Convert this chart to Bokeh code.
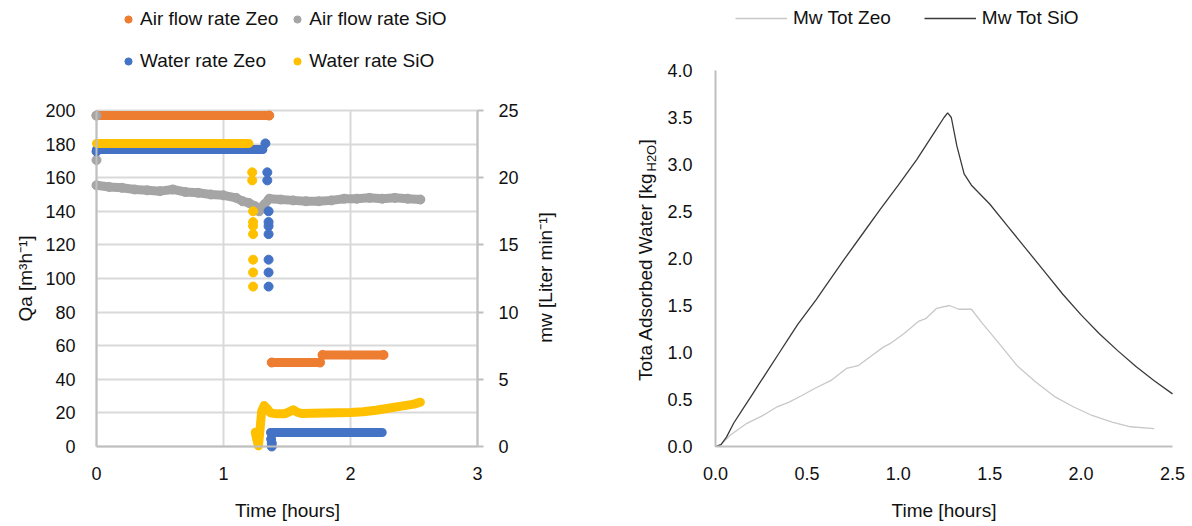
import math
from bokeh.plotting import figure
from bokeh.models import (Range1d, LinearAxis, Legend, LegendItem, FixedTicker,
                          NumeralTickFormatter, Label)
from bokeh.layouts import row
from bokeh.embed import file_html
from bokeh.resources import INLINE

nan = float("nan")

# ---------------- left chart data ----------------
x_ticks_left = [0, 1, 2, 3]
qa_ticks = [0, 20, 40, 60, 80, 100, 120, 140, 160, 180, 200]
mw_ticks = [0, 5, 10, 15, 20, 25]

# Air flow rate Zeo [m3/h]
air_zeo_t = [0.0, 1.36, nan, 1.38, 1.76, nan, 1.78, 2.26]
air_zeo_q = [197, 197, nan, 50, 50, nan, 54.5, 54.5]

# Air flow rate SiO [m3/h]
air_sio_pts_t = [0.0, 0.0]
air_sio_pts_q = [197, 170.5]
air_sio_t = [0.0, 0.1, 0.2, 0.3, 0.4, 0.5, 0.6, 0.7, 0.8, 0.9, 1.0, 1.1, 1.15, 1.2,
             1.25, 1.28, 1.32, 1.36, 1.45, 1.55, 1.65, 1.75, 1.85, 1.95, 2.05, 2.15,
             2.25, 2.35, 2.45, 2.55]
air_sio_q = [155.5, 154.5, 154, 153, 152.5, 152, 153, 151.5, 151, 150, 149.5, 148, 146, 145,
             143, 140, 144, 147.5, 147, 146.5, 146, 146, 146.5, 147.5, 147.5, 148,
             147.5, 148, 147.5, 147]

# Water rate Zeo [L/min]
water_zeo_t = [0.0, 1.31, nan, 1.37, 2.25]
water_zeo_v = [22.1, 22.1, nan, 1.04, 1.04]
water_zeo_pts_t = [0.0, 1.33, 1.345, 1.345, 1.355, 1.355, 1.355, 1.355, 1.355, 1.355,
                   1.355, 1.375, 1.38, 1.38]
water_zeo_pts_v = [21.95, 22.55, 20.4, 19.8, 17.5, 16.7, 16.4, 15.8, 13.9, 12.95, 11.9,
                   0.55, 0.25, 0.0]

# Water rate SiO [L/min]
water_sio_t = [0.0, 1.20, nan, 1.25, 1.26, 1.275, 1.29, 1.30, 1.32, 1.34, 1.37, 1.42,
               1.48, 1.52, 1.55, 1.58, 1.62, 1.7, 1.8, 1.9, 2.0, 2.1, 2.2, 2.3, 2.4,
               2.5, 2.55]
water_sio_v = [22.55, 22.55, nan, 1.06, 0.6, 0.05, 1.5, 2.6, 3.05, 2.85, 2.5, 2.43,
               2.43, 2.6, 2.73, 2.55, 2.45, 2.47, 2.5, 2.52, 2.53, 2.58, 2.7, 2.85,
               3.0, 3.15, 3.3]
water_sio_pts_t = [1.226, 1.226, 1.233, 1.233, 1.233, 1.233, 1.233, 1.233, 1.233]
water_sio_pts_v = [20.4, 19.8, 17.5, 16.7, 16.4, 15.8, 13.9, 12.95, 11.9]

# ---------------- right chart data ----------------
x_ticks_right = [0.0, 0.5, 1.0, 1.5, 2.0, 2.5]
y_ticks_right = [0.0, 0.5, 1.0, 1.5, 2.0, 2.5, 3.0, 3.5, 4.0]

mw_zeo_t = [0, 0.03, 0.08, 0.166, 0.25, 0.34, 0.40, 0.47, 0.55, 0.63, 0.716, 0.78, 0.85,
            0.92, 0.96, 1.03, 1.11, 1.15, 1.21, 1.28, 1.33, 1.40, 1.46, 1.55, 1.65, 1.75,
            1.86, 1.96, 2.06, 2.17, 2.27, 2.40]
mw_zeo = [0, 0.02, 0.12, 0.24, 0.32, 0.425, 0.47, 0.54, 0.625, 0.7, 0.83, 0.86, 0.96,
          1.06, 1.10, 1.2, 1.33, 1.36, 1.47, 1.5, 1.46, 1.46, 1.31, 1.10, 0.86, 0.69,
          0.525, 0.42, 0.33, 0.26, 0.21, 0.19]

mw_sio_t = [0, 0.03, 0.06, 0.1, 0.15, 0.2, 0.25, 0.3, 0.35, 0.4, 0.45, 0.5, 0.55, 0.6,
            0.7, 0.8, 0.9, 1.0, 1.1, 1.2, 1.25, 1.27, 1.29, 1.32, 1.36, 1.4, 1.5, 1.6,
            1.7, 1.8, 1.9, 2.0, 2.1, 2.2, 2.3, 2.4, 2.5]
mw_sio = [0, 0.02, 0.1, 0.25, 0.4, 0.55, 0.7, 0.85, 1.0, 1.15, 1.3, 1.43, 1.56, 1.7,
          1.98, 2.25, 2.52, 2.78, 3.05, 3.35, 3.5, 3.55, 3.5, 3.2, 2.9, 2.78, 2.58, 2.34,
          2.1, 1.86, 1.62, 1.4, 1.2, 1.02, 0.85, 0.7, 0.56]

# ---------------- styles ----------------
F = "Liberation Sans"
TXT = "#111111"
ORANGE, GRAY, BLUE, YELLOW = "#ED7D31", "#A5A5A5", "#4472C4", "#FFC000"
AX = "#bfbfbf"
GRID = "#d9d9d9"
TICK_FS = "18px"
LAB_FS = "19px"
H = 526

# pixel geometry of each canvas (frame covers the whole canvas)
L_W = 590
L_X0, L_X1 = 96, 477     # px of x = 0 and x = 3
L_Y0, L_Y1 = 446, 110    # px (from top) of Qa = 0 and Qa = 200
R_W = 602
R_X0, R_X1 = 125, 582    # px of t = 0 and t = 2.5
R_Y0, R_Y1 = 446, 70     # px of 0 and 4.0


def lin_range(v0, v1, p0, p1, size, flip=False):
    """data range spanning the whole canvas given two reference pixels"""
    k = (v1 - v0) / (p1 - p0)
    if not flip:
        return Range1d(v0 - p0 * k, v0 + (size - p0) * k)
    # y measured from top
    return Range1d(v0 - (size - p0) * (-k), v0 + p0 * (-k))


def style_axis(ax, ticks, ticks_out=0):
    ax.ticker = FixedTicker(ticks=ticks)
    ax.axis_line_color = AX
    ax.axis_line_width = 2
    ax.major_tick_line_color = AX if ticks_out else None
    ax.major_tick_line_width = 2
    ax.major_tick_out = ticks_out
    ax.major_tick_in = 0
    ax.minor_tick_line_color = None
    ax.major_label_text_font = F
    ax.major_label_text_font_size = TICK_FS
    ax.major_label_text_color = TXT


def title(p, text, x, y, angle=0.0, size=LAB_FS, align="center", y_range_name="default"):
    lab = Label(x=x, y=y, text=text, angle=angle, text_align=align,
                text_baseline="middle", text_font=F, text_font_size=size,
                text_color=TXT, y_range_name=y_range_name)
    p.add_layout(lab)
    return lab


# ---------------- left figure ----------------
qa_max = qa_ticks[-1]
mw_max = mw_ticks[-1]
xr1 = lin_range(x_ticks_left[0], x_ticks_left[-1], L_X0, L_X1, L_W)
yr1 = lin_range(0, qa_max, L_Y0, L_Y1, H, flip=True)
mr1 = lin_range(0, mw_max, L_Y0, L_Y1, H, flip=True)

p1 = figure(frame_width=L_W, frame_height=H, min_border=0, x_range=xr1, y_range=yr1,
            output_backend="svg", toolbar_location=None)
p1.extra_y_ranges = {"mw": mr1}
p1.outline_line_color = None

style_axis(p1.xaxis[0], x_ticks_left)
p1.xaxis[0].fixed_location = 0
p1.xaxis[0].bounds = (x_ticks_left[0], x_ticks_left[-1])
p1.xaxis[0].major_label_standoff = 20
style_axis(p1.yaxis[0], qa_ticks)
p1.yaxis[0].fixed_location = 0
p1.yaxis[0].bounds = (0, qa_max)
p1.yaxis[0].major_label_standoff = 21

rax = LinearAxis(y_range_name="mw")
style_axis(rax, mw_ticks, ticks_out=6)
rax.fixed_location = x_ticks_left[-1]
rax.bounds = (0, mw_max)
rax.major_label_standoff = 15
p1.add_layout(rax, "right")

xg, yg = p1.xgrid[0], p1.ygrid[0]
if "cross_bounds" in xg.properties():
    xg.cross_bounds = (0, qa_max)
    yg.cross_bounds = (x_ticks_left[0], x_ticks_left[-1])
    for g in (xg, yg):
        g.grid_line_color = GRID
        g.grid_line_width = 2
else:
    xg.grid_line_color = None
    yg.grid_line_color = None
    p1.segment(x0=x_ticks_left, y0=[0] * len(x_ticks_left), x1=x_ticks_left,
               y1=[qa_max] * len(x_ticks_left), line_color=GRID, line_width=2,
               level="underlay")
    p1.segment(x0=[x_ticks_left[0]] * len(qa_ticks), y0=qa_ticks,
               x1=[x_ticks_left[-1]] * len(qa_ticks), y1=qa_ticks,
               line_color=GRID, line_width=2, level="underlay")

LW = 9
p1.line(air_zeo_t, air_zeo_q, line_color=ORANGE, line_width=LW, line_cap="round", line_join="round")
r_az = p1.scatter(air_zeo_t, air_zeo_q, size=LW, color=ORANGE)
p1.line(air_sio_t, air_sio_q, line_color=GRAY, line_width=LW, line_cap="round", line_join="round")
p1.scatter(air_sio_t, air_sio_q, size=LW, color=GRAY)
r_as = p1.scatter(air_sio_pts_t, air_sio_pts_q, size=LW, color=GRAY)
p1.line(water_zeo_t, water_zeo_v, line_color=BLUE, line_width=LW, line_cap="round",
        line_join="round", y_range_name="mw")
r_wz = p1.scatter(water_zeo_pts_t, water_zeo_pts_v, size=LW, color=BLUE, y_range_name="mw")
p1.line(water_sio_t, water_sio_v, line_color=YELLOW, line_width=LW, line_cap="round",
        line_join="round", y_range_name="mw")
r_ws = p1.scatter(water_sio_pts_t, water_sio_pts_v, size=LW, color=YELLOW, y_range_name="mw")

# axis titles (px -> data)
kx1 = (x_ticks_left[-1] - x_ticks_left[0]) / (L_X1 - L_X0)
ky1 = qa_max / (L_Y0 - L_Y1)
title(p1, "Time [hours]", x=(287 - L_X0) * kx1, y=(L_Y0 - 510) * ky1)
title(p1, "Qa [m³h⁻¹]", x=(25 - L_X0) * kx1, y=(L_Y0 - 278) * ky1, angle=math.pi / 2)
title(p1, "mw [Liter min⁻¹]", x=(545 - L_X0) * kx1, y=(L_Y0 - 277) * ky1, angle=math.pi / 2)

# legend: rows centred ~19px and ~61px from the top
leg1_h = 32 + 10 + 32
leg1 = Legend(items=[LegendItem(label="Air flow rate Zeo", renderers=[r_az]),
                     LegendItem(label="Air flow rate SiO", renderers=[r_as]),
                     LegendItem(label="Water rate Zeo", renderers=[r_wz]),
                     LegendItem(label="Water rate SiO", renderers=[r_ws])],
              orientation="horizontal", ncols=2,
              location=(119, H - 3 - leg1_h),
              glyph_width=18, glyph_height=32, label_height=32, label_standoff=3,
              spacing=10, padding=0, margin=0, border_line_color=None,
              background_fill_alpha=0, label_text_font=F, label_text_font_size="19px",
              label_text_color=TXT)
p1.add_layout(leg1, "center")

# ---------------- right figure ----------------
xr2 = lin_range(x_ticks_right[0], x_ticks_right[-1], R_X0, R_X1, R_W)
yr2 = lin_range(y_ticks_right[0], y_ticks_right[-1], R_Y0, R_Y1, H, flip=True)
p2 = figure(frame_width=R_W, frame_height=H, min_border=0, x_range=xr2, y_range=yr2,
            output_backend="svg", toolbar_location=None)
p2.outline_line_color = None
p2.xgrid.grid_line_color = None
p2.ygrid.grid_line_color = None
style_axis(p2.xaxis[0], x_ticks_right)
style_axis(p2.yaxis[0], y_ticks_right)
p2.xaxis[0].fixed_location = 0
p2.yaxis[0].fixed_location = 0
p2.xaxis[0].bounds = (x_ticks_right[0], x_ticks_right[-1])
p2.yaxis[0].bounds = (y_ticks_right[0], y_ticks_right[-1])
p2.xaxis[0].formatter = NumeralTickFormatter(format="0.0")
p2.yaxis[0].formatter = NumeralTickFormatter(format="0.0")
p2.xaxis[0].major_label_standoff = 20
p2.yaxis[0].major_label_standoff = 23

r_mz = p2.line(mw_zeo_t, mw_zeo, line_color="#c8c8c8", line_width=1.3)
r_ms = p2.line(mw_sio_t, mw_sio, line_color="#3a3a3a", line_width=1.3)

leg2 = Legend(items=[LegendItem(label="Mw Tot Zeo", renderers=[r_mz]),
                     LegendItem(label="Mw Tot SiO", renderers=[r_ms])],
              orientation="horizontal", location=(145, H - 6 - 24),
              glyph_width=52, glyph_height=24, label_height=24, label_standoff=6,
              spacing=33, padding=0, margin=0, border_line_color=None,
              background_fill_alpha=0, label_text_font=F, label_text_font_size="19px",
              label_text_color=TXT)
p2.add_layout(leg2, "center")

kx2 = (x_ticks_right[-1] - x_ticks_right[0]) / (R_X1 - R_X0)
ky2 = (y_ticks_right[-1] - y_ticks_right[0]) / (R_Y0 - R_Y1)
title(p2, "Time [hours]", x=((R_X0 + R_X1) / 2 - R_X0) * kx2, y=(R_Y0 - 510) * ky2)
# y title with subscript: main part ends at P, then "H2O" (small, lowered), then "]"
tx = (55 - R_X0) * kx2
P = 172
title(p2, "Tota Adsorbed Water [kg", x=tx, y=(R_Y0 - P) * ky2, angle=math.pi / 2, align="right")
title(p2, "H2O", x=tx + 6 * kx2, y=(R_Y0 - P + 1) * ky2, angle=math.pi / 2, size="13px",
      align="left")
title(p2, "]", x=tx, y=(R_Y0 - P + 28) * ky2, angle=math.pi / 2, align="left")

layout = row(p1, p2)
open("out.html", "w").write(file_html(layout, INLINE))
